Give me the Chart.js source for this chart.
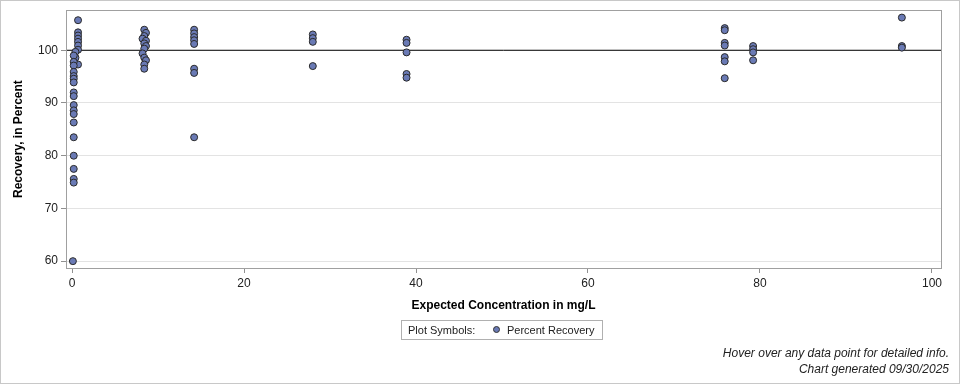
<!DOCTYPE html>
<html>
<head>
<meta charset="utf-8">
<script src="https://cdn.jsdelivr.net/npm/chart.js@4/dist/chart.umd.min.js"></script>
<style>
  html, body { margin: 0; padding: 0; background: #fff; }
  #wrap { position: relative; width: 960px; height: 384px; box-sizing: border-box; border: 1px solid #c8c8c8; overflow: hidden; font-family: "Liberation Sans", Arial, sans-serif; }
  #chart { position: absolute; left: -1px; top: -1px; }
  #legend { position: absolute; left: 400px; top: 319px; width: 200px; height: 18px; border: 1px solid #b0b0b0; font-size: 11px; color: #222; line-height: 18px; white-space: nowrap; }
  #legend .lab { position: absolute; left: 6px; }
  #legend .dot { position: absolute; left: 91px; top: 5px; width: 7px; height: 7px; border-radius: 50%; background: #6a7ab5; border: 1px solid #333; box-sizing: border-box; }
  #legend .name { position: absolute; left: 105px; }
  .foot { position: absolute; right: 10px; font-size: 12px; font-style: italic; color: #222; white-space: nowrap; }
</style>
</head>
<body>
<div id="wrap">
  <canvas id="chart" width="960" height="384"></canvas>
  <div id="legend"><span class="lab">Plot Symbols:</span><span class="dot"></span><span class="name">Percent Recovery</span></div>
  <div class="foot" style="top:345px;">Hover over any data point for detailed info.</div>
  <div class="foot" style="top:361px;">Chart generated 09/30/2025</div>
</div>
<script>
// Expected concentration (mg/L) and percent recovery
const concentration = [
  0.7, 0.7, 0.7, 0.7, 0.7, 0.7, 0.7, 0.7,
  0.4, 0.4,
  0.2, 0.2, 0.2, 0.2, 0.2, 0.2, 0.2, 0.2, 0.2, 0.2, 0.2, 0.2, 0.2, 0.2, 0.2, 0.2, 0.2, 0.2,
  0.1,
  8.4, 8.6, 8.4, 8.2, 8.6, 8.4, 8.6, 8.4, 8.2, 8.4, 8.6, 8.4, 8.4,
  14.2, 14.2, 14.2, 14.2, 14.2, 14.2, 14.2, 14.2,
  28.0, 28.0, 28.0, 28.0,
  38.9, 38.9, 38.9, 38.9, 38.9,
  75.9, 75.9, 75.9, 75.9, 75.9, 75.9, 75.9,
  79.2, 79.2, 79.2, 79.2,
  96.5, 96.5, 96.5
];
const recovery = [
  105.7, 103.4, 102.8, 102.2, 101.6, 100.9, 100.1, 97.3,
  99.7, 98.6,
  99.0, 97.8, 97.1, 95.9, 95.1, 94.6, 93.9, 92.0, 91.3, 89.6, 88.6, 87.9, 86.3, 83.5, 80.0, 77.5, 75.6, 74.9,
  60.0,
  103.9, 103.3, 102.7, 102.2, 101.8, 101.3, 100.8, 100.3, 99.4, 98.6, 98.1, 97.3, 96.5,
  103.9, 103.2, 102.5, 101.9, 101.2, 96.5, 95.7, 83.5,
  103.0, 102.3, 101.6, 97.0,
  102.0, 101.4, 99.6, 95.5, 94.8,
  104.2, 103.8, 101.4, 100.9, 98.7, 97.9, 94.7,
  100.8, 100.2, 99.6, 98.1,
  106.2, 100.8, 100.5
];
const referenceValue = 100;
const xTicks = [0, 20, 40, 60, 80, 100];
const yTicks = [60, 70, 80, 90, 100];
const xRange = [-0.7, 101.05];
const yRange = [58.7, 107.6];

const points = concentration.map((c, i) => ({ x: c, y: recovery[i] }));

const frame = {
  id: 'frame',
  afterDraw(chart) {
    const a = chart.chartArea, ctx = chart.ctx;
    ctx.save();
    ctx.strokeStyle = '#a0a0a0';
    ctx.lineWidth = 1;
    ctx.strokeRect(Math.round(a.left) + 0.5, Math.round(a.top) + 0.5, Math.round(a.right - a.left), Math.round(a.bottom - a.top));
    ctx.restore();
  }
};

const tickFont = { family: '"Liberation Sans", Arial, sans-serif', size: 12 };
const titleFont = { family: '"Liberation Sans", Arial, sans-serif', size: 12, weight: 'bold' };

new Chart(document.getElementById('chart'), {
  data: {
    datasets: [
      {
        type: 'scatter',
        label: 'Percent Recovery',
        data: points,
        pointRadius: 3.5,
        pointHoverRadius: 4.5,
        pointBackgroundColor: '#6a7ab5',
        pointBorderColor: '#2a2a2a',
        pointBorderWidth: 1,
        order: 0
      },
      {
        type: 'line',
        label: 'Reference',
        data: [{ x: xRange[0], y: referenceValue }, { x: xRange[1], y: referenceValue }],
        borderColor: '#000',
        borderWidth: 1,
        pointRadius: 0,
        order: 1
      }
    ]
  },
  options: {
    responsive: false,
    animation: false,
    layout: { padding: { left: 0, top: 10, right: 19, bottom: 66 } },
    plugins: { legend: { display: false }, tooltip: { enabled: true } },
    scales: {
      x: {
        type: 'linear',
        min: xRange[0], max: xRange[1],
        afterBuildTicks(s) { s.ticks = xTicks.map(v => ({ value: v })); },
        afterFit(s) { s.height = 50; },
        grid: { drawOnChartArea: false, tickLength: 5, tickColor: '#909090' },
        border: { color: '#a0a0a0' },
        ticks: { font: tickFont, color: '#222', padding: 3, maxRotation: 0 },
        title: { display: true, text: 'Expected Concentration in mg/L', font: titleFont, color: '#000', padding: { top: 0, bottom: 5 } }
      },
      y: {
        type: 'linear',
        min: yRange[0], max: yRange[1],
        afterBuildTicks(s) { s.ticks = yTicks.map(v => ({ value: v })); },
        afterFit(s) { s.width = 66; },
        grid: { color: '#e3e3e3', tickLength: 5, tickColor: '#909090' },
        border: { color: '#a0a0a0' },
        ticks: { font: tickFont, color: '#222', padding: 3 },
        title: { display: true, text: 'Recovery, in Percent', font: titleFont, color: '#000', padding: { top: 11, bottom: 0 } }
      }
    }
  },
  plugins: [frame]
});
</script>
</body>
</html>
